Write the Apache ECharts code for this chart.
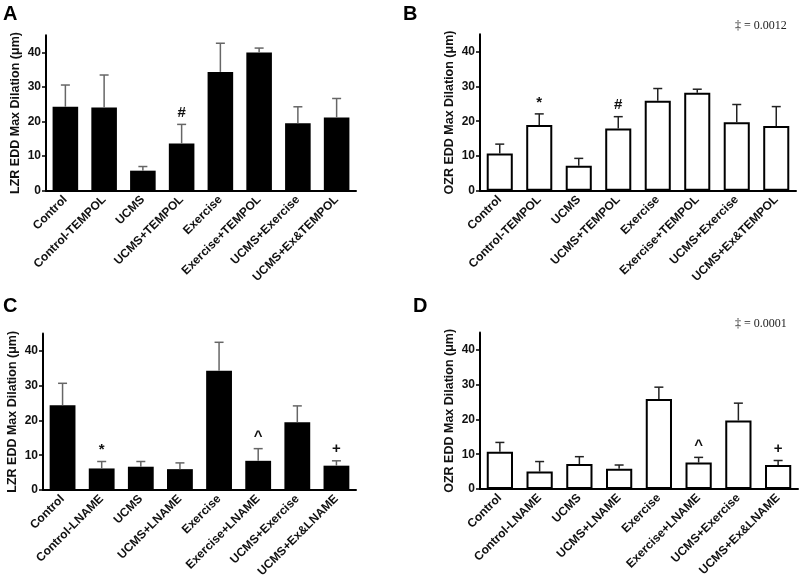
<!DOCTYPE html>
<html>
<head>
<meta charset="utf-8">
<script src="https://cdn.jsdelivr.net/npm/echarts@6/dist/echarts.min.js"></script>
<style>
html,body{margin:0;padding:0;background:#fff;}
#chart{width:800px;height:579px;}
</style>
</head>
<body>
<div id="chart"></div>
<script>
// ---- data ----
const categoriesTempol = ['Control','Control-TEMPOL','UCMS','UCMS+TEMPOL','Exercise','Exercise+TEMPOL','UCMS+Exercise','UCMS+Ex&TEMPOL'];
const categoriesLname = ['Control','Control-LNAME','UCMS','UCMS+LNAME','Exercise','Exercise+LNAME','UCMS+Exercise','UCMS+Ex&LNAME'];

const lzrTempolMean = [24.3, 24.1, 5.8, 13.7, 34.4, 40.0, 19.5, 21.2];
const lzrTempolSem  = [6.3, 9.4, 1.2, 5.5, 8.3, 1.3, 4.8, 5.5];
const lzrTempolMarks = ['', '', '', '#', '', '', '', ''];

const ozrTempolMean = [10.7, 18.9, 7.2, 17.9, 25.9, 28.2, 19.7, 18.6];
const ozrTempolSem  = [2.7, 3.2, 2.1, 3.4, 3.5, 1.0, 5.1, 5.6];
const ozrTempolMarks = ['', '*', '', '#', '', '', '', ''];

const lzrLnameMean = [24.4, 6.2, 6.7, 6.0, 34.3, 8.4, 19.5, 7.0];
const lzrLnameSem  = [6.3, 2.0, 1.5, 1.8, 8.2, 3.5, 4.7, 1.4];
const lzrLnameMarks = ['', '*', '', '', '', '^', '', '+'];

const ozrLnameMean = [10.7, 5.0, 7.2, 5.8, 25.9, 7.6, 19.7, 6.9];
const ozrLnameSem  = [2.7, 2.9, 2.1, 1.1, 3.4, 1.5, 5.0, 1.3];
const ozrLnameMarks = ['', '', '', '', '', '^', '', '+'];

const yTicks = {min: 0, max: 45, interval: 10};
const panelLetters = ['A', 'B', 'C', 'D'];
const pNotes = ['', '\u2021 = 0.0012', '', '\u2021 = 0.0001'];
const yNames = ['LZR EDD Max Dilation (\u03bcm)', 'OZR EDD Max Dilation (\u03bcm)', 'LZR EDD Max Dilation (\u03bcm)', 'OZR EDD Max Dilation (\u03bcm)'];

// ---- chart ----
const FONT = 'Liberation Sans, Arial, Helvetica, sans-serif';
const SERIF = 'Liberation Serif, Times New Roman, serif';

const panels = [
  {cats: categoriesTempol, mean: lzrTempolMean, sem: lzrTempolSem, marks: lzrTempolMarks, filled: true},
  {cats: categoriesTempol, mean: ozrTempolMean, sem: ozrTempolSem, marks: ozrTempolMarks, filled: false},
  {cats: categoriesLname, mean: lzrLnameMean, sem: lzrLnameSem, marks: lzrLnameMarks, filled: true},
  {cats: categoriesLname, mean: ozrLnameMean, sem: ozrLnameSem, marks: ozrLnameMarks, filled: false}
];

const grids = [
  {left: 46, top: 35.3, width: 310, height: 155.4},
  {left: 480, top: 34.3, width: 316, height: 156.4},
  {left: 43, top: 333.6, width: 313, height: 156.4},
  {left: 480, top: 332.6, width: 318, height: 156.4}
];

const xAxes = [], yAxes = [], series = [];
panels.forEach((p, k) => {
  xAxes.push({
    type: 'category', gridIndex: k, data: p.cats,
    axisLine: {lineStyle: {color: '#000', width: 2}},
    axisTick: {alignWithLabel: true, length: 4, lineStyle: {color: '#000', width: 1.5}},
    axisLabel: {rotate: 45, interval: 0, fontFamily: FONT, fontWeight: 'bold', fontSize: 12, color: '#111', margin: 7}
  });
  yAxes.push({
    type: 'value', gridIndex: k, min: yTicks.min, max: yTicks.max, interval: yTicks.interval,
    name: yNames[k], nameLocation: 'middle', nameGap: 24, nameRotate: 90,
    nameTextStyle: {fontFamily: FONT, fontWeight: 'bold', fontSize: 12.5, color: '#111'},
    axisLine: {show: true, lineStyle: {color: '#000', width: 2}},
    axisTick: {show: true, length: 4, lineStyle: {color: '#000', width: 1.5}},
    axisLabel: {fontFamily: FONT, fontWeight: 'bold', fontSize: 12, color: '#111', margin: 5, showMaxLabel: false},
    splitLine: {show: false}
  });
  series.push({
    type: 'bar', xAxisIndex: k, yAxisIndex: k, barWidth: '66%',
    data: p.mean,
    itemStyle: p.filled ? {color: '#000'} : {color: '#fff', borderColor: '#000', borderWidth: 2},
    silent: true, animation: false
  });
  const errColor = p.filled ? '#666' : '#222';
  series.push({
    type: 'custom', xAxisIndex: k, yAxisIndex: k, z: 5, animation: false, silent: true,
    data: p.mean.map((m, i) => [i, m, m + p.sem[i]]),
    renderItem: function (params, api) {
      const i = api.value(0);
      const a = api.coord([i, api.value(1)]);
      const b = api.coord([i, api.value(2)]);
      const children = [
        {type: 'line', shape: {x1: b[0], y1: a[1], x2: b[0], y2: b[1]}, style: {stroke: errColor, lineWidth: 1.5}},
        {type: 'line', shape: {x1: b[0] - 4.5, y1: b[1], x2: b[0] + 4.5, y2: b[1]}, style: {stroke: errColor, lineWidth: 1.5}}
      ];
      const mk = p.marks[params.dataIndex];
      if (mk) {
        children.push({type: 'text', style: {text: mk, x: b[0], y: b[1] - 4, align: 'center', verticalAlign: 'bottom',
          font: 'bold 15px ' + FONT, fill: '#111'}});
      }
      return {type: 'group', children: children};
    }
  });
});

const graphic = [];
const letterPos = [[3, 4], [403, 4], [3, 296], [413, 296]];
panelLetters.forEach((L, k) => {
  graphic.push({type: 'text', left: letterPos[k][0], top: letterPos[k][1],
    style: {text: L, font: 'bold 20px ' + FONT, fill: '#000'}});
});
const notePos = [null, [735, 20], null, [735, 318]];
pNotes.forEach((t, k) => {
  if (t) graphic.push({type: 'text', left: notePos[k][0], top: notePos[k][1],
    style: {text: t, font: '12px ' + SERIF, fill: '#222'}});
});

const chart = echarts.init(document.getElementById('chart'), null, {renderer: 'canvas'});
chart.setOption({
  animation: false,
  backgroundColor: '#fff',
  grid: grids.map(g => Object.assign({containLabel: false, outerBoundsMode: 'none'}, g)),
  xAxis: xAxes,
  yAxis: yAxes,
  series: series,
  graphic: graphic
});
</script>
</body>
</html>
